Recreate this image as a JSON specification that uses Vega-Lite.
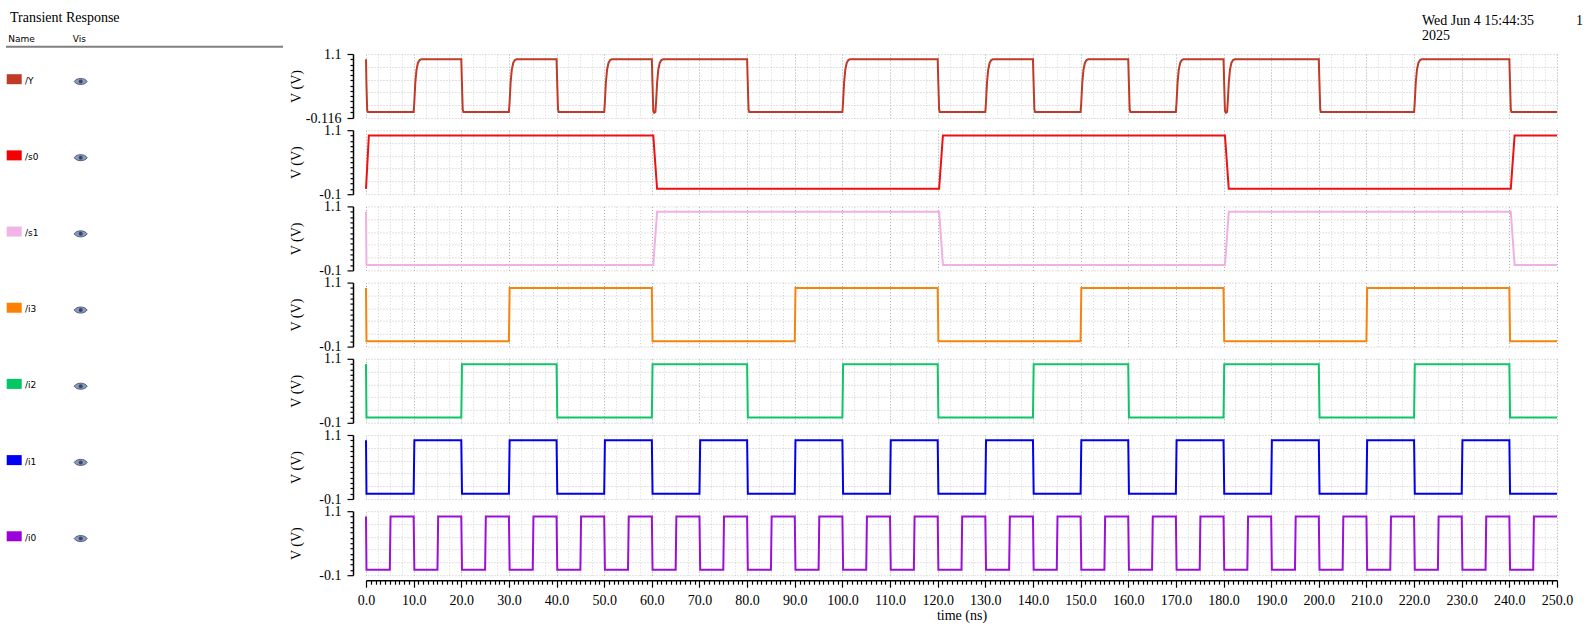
{
"$schema":"https://vega.github.io/schema/vega-lite/v6.json",
"background":"white",
"padding":{"left":5,"top":10,"right":5,"bottom":5},
"bounds":"flush",
"spacing":83,
"datasets":{
"legend":[{"sig":"/Y","row":0},{"sig":"/s0","row":1},{"sig":"/s1","row":2},{"sig":"/i3","row":3},{"sig":"/i2","row":4},{"sig":"/i1","row":5},{"sig":"/i0","row":6}],
"Y":[{"t":0,"v":1},{"t":0.1,"v":0.5},{"t":0.25,"v":0.03},{"t":0.4,"v":0},
{"t":10,"v":0},{"t":10.12,"v":0.15},{"t":10.35,"v":0.55},{"t":10.6,"v":0.8},{"t":10.9,"v":0.93},{"t":11.25,"v":0.985},{"t":11.6,"v":1},
{"t":20,"v":1},{"t":20.12,"v":0.6},{"t":20.3,"v":0.05},{"t":20.45,"v":0},
{"t":30,"v":0},{"t":30.12,"v":0.15},{"t":30.35,"v":0.55},{"t":30.6,"v":0.8},{"t":30.9,"v":0.93},{"t":31.25,"v":0.985},{"t":31.6,"v":1},
{"t":40,"v":1},{"t":40.12,"v":0.6},{"t":40.3,"v":0.05},{"t":40.45,"v":0},
{"t":50,"v":0},{"t":50.12,"v":0.15},{"t":50.35,"v":0.55},{"t":50.6,"v":0.8},{"t":50.9,"v":0.93},{"t":51.25,"v":0.985},{"t":51.6,"v":1},
{"t":60,"v":1},{"t":60.15,"v":0.5},{"t":60.3,"v":0.02},{"t":60.5,"v":-0.016},{"t":60.75,"v":0},{"t":60.9,"v":0.2},{"t":61.1,"v":0.55},{"t":61.35,"v":0.8},{"t":61.65,"v":0.93},{"t":62,"v":0.985},{"t":62.4,"v":1},
{"t":80,"v":1},{"t":80.12,"v":0.6},{"t":80.3,"v":0.05},{"t":80.45,"v":0},
{"t":100,"v":0},{"t":100.12,"v":0.15},{"t":100.35,"v":0.55},{"t":100.6,"v":0.8},{"t":100.9,"v":0.93},{"t":101.25,"v":0.985},{"t":101.6,"v":1},
{"t":120,"v":1},{"t":120.12,"v":0.6},{"t":120.3,"v":0.05},{"t":120.45,"v":0},
{"t":130,"v":0},{"t":130.12,"v":0.15},{"t":130.35,"v":0.55},{"t":130.6,"v":0.8},{"t":130.9,"v":0.93},{"t":131.25,"v":0.985},{"t":131.6,"v":1},
{"t":140,"v":1},{"t":140.12,"v":0.6},{"t":140.3,"v":0.05},{"t":140.45,"v":0},
{"t":150,"v":0},{"t":150.12,"v":0.15},{"t":150.35,"v":0.55},{"t":150.6,"v":0.8},{"t":150.9,"v":0.93},{"t":151.25,"v":0.985},{"t":151.6,"v":1},
{"t":160,"v":1},{"t":160.12,"v":0.6},{"t":160.3,"v":0.05},{"t":160.45,"v":0},
{"t":170,"v":0},{"t":170.12,"v":0.15},{"t":170.35,"v":0.55},{"t":170.6,"v":0.8},{"t":170.9,"v":0.93},{"t":171.25,"v":0.985},{"t":171.6,"v":1},
{"t":180,"v":1},{"t":180.15,"v":0.5},{"t":180.3,"v":0.02},{"t":180.5,"v":-0.016},{"t":180.75,"v":0},{"t":180.9,"v":0.2},{"t":181.1,"v":0.55},{"t":181.35,"v":0.8},{"t":181.65,"v":0.93},{"t":182,"v":0.985},{"t":182.4,"v":1},
{"t":200,"v":1},{"t":200.12,"v":0.6},{"t":200.3,"v":0.05},{"t":200.45,"v":0},
{"t":220,"v":0},{"t":220.12,"v":0.15},{"t":220.35,"v":0.55},{"t":220.6,"v":0.8},{"t":220.9,"v":0.93},{"t":221.25,"v":0.985},{"t":221.6,"v":1},
{"t":240,"v":1},{"t":240.12,"v":0.6},{"t":240.3,"v":0.05},{"t":240.45,"v":0},
{"t":250,"v":0}],
"s0":[{"t":0,"v":0},{"t":0.6,"v":1},{"t":60.3,"v":1},{"t":61.1,"v":0},{"t":120.3,"v":0},{"t":121.1,"v":1},{"t":180.3,"v":1},{"t":181.1,"v":0},{"t":240.3,"v":0},{"t":241.1,"v":1},{"t":250,"v":1}],
"s1":[{"t":0,"v":1},{"t":0.1,"v":0},{"t":60.3,"v":0},{"t":61.1,"v":1},{"t":120.3,"v":1},{"t":121.1,"v":0},{"t":180.3,"v":0},{"t":181.1,"v":1},{"t":240.3,"v":1},{"t":241.1,"v":0},{"t":250,"v":0}],
"i3":[{"t":0,"v":1},{"t":0.1,"v":0},{"t":30,"v":0},{"t":30.15,"v":1},{"t":60,"v":1},{"t":60.15,"v":0},{"t":90,"v":0},{"t":90.15,"v":1},{"t":120,"v":1},{"t":120.15,"v":0},{"t":150,"v":0},{"t":150.15,"v":1},{"t":180,"v":1},{"t":180.15,"v":0},{"t":210,"v":0},{"t":210.15,"v":1},{"t":240,"v":1},{"t":240.15,"v":0},{"t":250,"v":0}],
"i2":[{"t":0,"v":1},{"t":0.1,"v":0},{"t":20,"v":0},{"t":20.15,"v":1},{"t":40,"v":1},{"t":40.15,"v":0},{"t":60,"v":0},{"t":60.15,"v":1},{"t":80,"v":1},{"t":80.15,"v":0},{"t":100,"v":0},{"t":100.15,"v":1},{"t":120,"v":1},{"t":120.15,"v":0},{"t":140,"v":0},{"t":140.15,"v":1},{"t":160,"v":1},{"t":160.15,"v":0},{"t":180,"v":0},{"t":180.15,"v":1},{"t":200,"v":1},{"t":200.15,"v":0},{"t":220,"v":0},{"t":220.15,"v":1},{"t":240,"v":1},{"t":240.15,"v":0},{"t":250,"v":0}],
"i1":[{"t":0,"v":1},{"t":0.1,"v":0},{"t":10,"v":0},{"t":10.15,"v":1},{"t":20,"v":1},{"t":20.15,"v":0},{"t":30,"v":0},{"t":30.15,"v":1},{"t":40,"v":1},{"t":40.15,"v":0},{"t":50,"v":0},{"t":50.15,"v":1},{"t":60,"v":1},{"t":60.15,"v":0},{"t":70,"v":0},{"t":70.15,"v":1},{"t":80,"v":1},{"t":80.15,"v":0},{"t":90,"v":0},{"t":90.15,"v":1},{"t":100,"v":1},{"t":100.15,"v":0},{"t":110,"v":0},{"t":110.15,"v":1},{"t":120,"v":1},{"t":120.15,"v":0},{"t":130,"v":0},{"t":130.15,"v":1},{"t":140,"v":1},{"t":140.15,"v":0},{"t":150,"v":0},{"t":150.15,"v":1},{"t":160,"v":1},{"t":160.15,"v":0},{"t":170,"v":0},{"t":170.15,"v":1},{"t":180,"v":1},{"t":180.15,"v":0},{"t":190,"v":0},{"t":190.15,"v":1},{"t":200,"v":1},{"t":200.15,"v":0},{"t":210,"v":0},{"t":210.15,"v":1},{"t":220,"v":1},{"t":220.15,"v":0},{"t":230,"v":0},{"t":230.15,"v":1},{"t":240,"v":1},{"t":240.15,"v":0},{"t":250,"v":0}],
"i0":[{"t":0,"v":1},{"t":0.1,"v":0},
{"t":5,"v":0},{"t":5.15,"v":1},{"t":10,"v":1},{"t":10.15,"v":0},
{"t":15,"v":0},{"t":15.15,"v":1},{"t":20,"v":1},{"t":20.15,"v":0},
{"t":25,"v":0},{"t":25.15,"v":1},{"t":30,"v":1},{"t":30.15,"v":0},
{"t":35,"v":0},{"t":35.15,"v":1},{"t":40,"v":1},{"t":40.15,"v":0},
{"t":45,"v":0},{"t":45.15,"v":1},{"t":50,"v":1},{"t":50.15,"v":0},
{"t":55,"v":0},{"t":55.15,"v":1},{"t":60,"v":1},{"t":60.15,"v":0},
{"t":65,"v":0},{"t":65.15,"v":1},{"t":70,"v":1},{"t":70.15,"v":0},
{"t":75,"v":0},{"t":75.15,"v":1},{"t":80,"v":1},{"t":80.15,"v":0},
{"t":85,"v":0},{"t":85.15,"v":1},{"t":90,"v":1},{"t":90.15,"v":0},
{"t":95,"v":0},{"t":95.15,"v":1},{"t":100,"v":1},{"t":100.15,"v":0},
{"t":105,"v":0},{"t":105.15,"v":1},{"t":110,"v":1},{"t":110.15,"v":0},
{"t":115,"v":0},{"t":115.15,"v":1},{"t":120,"v":1},{"t":120.15,"v":0},
{"t":125,"v":0},{"t":125.15,"v":1},{"t":130,"v":1},{"t":130.15,"v":0},
{"t":135,"v":0},{"t":135.15,"v":1},{"t":140,"v":1},{"t":140.15,"v":0},
{"t":145,"v":0},{"t":145.15,"v":1},{"t":150,"v":1},{"t":150.15,"v":0},
{"t":155,"v":0},{"t":155.15,"v":1},{"t":160,"v":1},{"t":160.15,"v":0},
{"t":165,"v":0},{"t":165.15,"v":1},{"t":170,"v":1},{"t":170.15,"v":0},
{"t":175,"v":0},{"t":175.15,"v":1},{"t":180,"v":1},{"t":180.15,"v":0},
{"t":185,"v":0},{"t":185.15,"v":1},{"t":190,"v":1},{"t":190.15,"v":0},
{"t":195,"v":0},{"t":195.15,"v":1},{"t":200,"v":1},{"t":200.15,"v":0},
{"t":205,"v":0},{"t":205.15,"v":1},{"t":210,"v":1},{"t":210.15,"v":0},
{"t":215,"v":0},{"t":215.15,"v":1},{"t":220,"v":1},{"t":220.15,"v":0},
{"t":225,"v":0},{"t":225.15,"v":1},{"t":230,"v":1},{"t":230.15,"v":0},
{"t":235,"v":0},{"t":235.15,"v":1},{"t":240,"v":1},{"t":240.15,"v":0},
{"t":245,"v":0},{"t":245.15,"v":1},{"t":250,"v":1}]
},
"hconcat":[
{
"width":277,"height":521.2,
"title":{"text":"Transient Response","anchor":"start","frame":"group","dx":4,"offset":10,"font":"Liberation Serif","fontSize":14,"fontWeight":"normal","color":"#000"},
"data":{"name":"legend"},
"layer":[
{"mark":{"type":"point","shape":"M-1.5,-1L1.5,-1L1.5,1L-1.5,1Z","filled":true,"size":100,"opacity":1,"strokeWidth":0},
"encoding":{"x":{"value":8.2},
"y":{"field":"row","type":"quantitative","scale":{"domain":[-0.3308,6.5109],"reverse":true,"nice":false,"zero":false},"axis":null},
"color":{"field":"sig","type":"nominal","scale":{"domain":["/Y","/s0","/s1","/i3","/i2","/i1","/i0"],"range":["#c03a28","#f40000","#f2b4e6","#ff8000","#00c864","#0000f4","#9a00dc"]},"legend":null}}},
{"mark":{"type":"text","align":"left","baseline":"middle","dy":1.5,"font":"DejaVu Sans","fontSize":9,"color":"#000"},
"encoding":{"x":{"value":19},"y":{"field":"row","type":"quantitative"},"text":{"field":"sig"}}},
{"mark":{"type":"point","shape":"M-1,0C-0.6,-0.62 0.6,-0.62 1,0C0.6,0.62 -0.6,0.62 -1,0Z","filled":true,"size":169,"opacity":1,"color":"#8e9bb8","stroke":"#4d5d80","strokeWidth":1,"yOffset":2.3},
"encoding":{"x":{"value":74.7},"y":{"field":"row","type":"quantitative"}}},
{"mark":{"type":"point","shape":"circle","filled":true,"size":16,"opacity":1,"color":"#3a4868","yOffset":2.3},
"encoding":{"x":{"value":74.7},"y":{"field":"row","type":"quantitative"}}},
{"data":{"values":[{"label":"Name"}]},
"mark":{"type":"text","align":"left","baseline":"middle","font":"DejaVu Sans","fontSize":9,"color":"#000"},
"encoding":{"x":{"value":2.3},"y":{"datum":-0.5316,"type":"quantitative"},"text":{"field":"label"}}},
{"data":{"values":[{"label":"Vis"}]},
"mark":{"type":"text","align":"left","baseline":"middle","font":"DejaVu Sans","fontSize":9,"color":"#000"},
"encoding":{"x":{"value":66.7},"y":{"datum":-0.5316,"type":"quantitative"},"text":{"field":"label"}}},
{"data":{"values":[{"label":"line"}]},
"mark":{"type":"rule","color":"#808080","strokeWidth":2},
"encoding":{"x":{"value":0},"x2":{"value":277},"y":{"datum":-0.4266,"type":"quantitative"}}}
]
},
{
"bounds":"flush",
"spacing":12.2,
"vconcat":[
{
"width":1191,"height":64,
"title":{"text":["Wed Jun 4 15:44:35\u00a0\u00a0\u00a0\u00a0\u00a0\u00a0\u00a0\u00a0\u00a0\u00a0\u00a0\u00a01","2025"],"anchor":"start","frame":"group","align":"left","dx":1056,"offset":4,"lineHeight":15,"font":"Liberation Serif","fontSize":14,"fontWeight":"normal","color":"#000"},
"data":{"name":"Y"},
"layer":[
{"mark":{"type":"line","color":"#c03a28","strokeWidth":2},
"encoding":{
"x":{"field":"t","type":"quantitative","scale":{"domain":[0,250],"nice":false,"zero":false},"axis":{"orient":"bottom","values":[0,10,20,30,40,50,60,70,80,90,100,110,120,130,140,150,160,170,180,190,200,210,220,230,240,250],"grid":true,"gridColor":"#a8a8a8","gridDash":[1,2],"ticks":false,"labels":false,"domain":false,"title":null}},
"y":{"field":"v","type":"quantitative","scale":{"domain":[-0.116,1.1],"nice":false,"zero":false},"axis":{"orient":"left","offset":13,"values":[-0.116,0,0.1,0.2,0.3,0.4,0.5,0.6,0.7,0.8,0.9,1,1.1],"labelExpr":"datum.value == 1.1 ? '1.1' : (datum.value == -0.116 ? '-0.116' : '')","tickSize":{"condition":{"test":"datum.value == 1.1 || datum.value == -0.116","value":6},"value":3},"labelPadding":6,"labelOverlap":false,"labelFlush":false,"labelBound":false,"grid":false,"domainWidth":1.5,"tickWidth":1.2,"title":"V (V)","titleX":-57,"titleY":32,"titleBaseline":"middle"}}}},
{"mark":{"type":"line","opacity":0},
"encoding":{
"x":{"field":"t","type":"quantitative","axis":{"orient":"top","values":[2.5,5,7.5,12.5,15,17.5,22.5,25,27.5,32.5,35,37.5,42.5,45,47.5,52.5,55,57.5,62.5,65,67.5,72.5,75,77.5,82.5,85,87.5,92.5,95,97.5,102.5,105,107.5,112.5,115,117.5,122.5,125,127.5,132.5,135,137.5,142.5,145,147.5,152.5,155,157.5,162.5,165,167.5,172.5,175,177.5,182.5,185,187.5,192.5,195,197.5,202.5,205,207.5,212.5,215,217.5,222.5,225,227.5,232.5,235,237.5,242.5,245,247.5],"grid":true,"gridColor":"#d6d6d6","gridDash":[1,2],"ticks":false,"labels":false,"domain":false,"title":null}},
"y":{"field":"v","type":"quantitative","axis":{"orient":"right","values":[-0.116,0.1272,0.3704,0.6136,0.8568,1.1],"grid":true,"gridColor":"#c4c4c4","gridDash":[1,2],"ticks":false,"labels":false,"domain":false,"title":null}}}}
],
"resolve":{"axis":{"x":"independent","y":"independent"}}
},
{
"width":1191,"height":64,
"data":{"name":"s0"},
"layer":[
{"mark":{"type":"line","color":"#ee1111","strokeWidth":2},
"encoding":{
"x":{"field":"t","type":"quantitative","scale":{"domain":[0,250],"nice":false,"zero":false},"axis":{"orient":"bottom","values":[0,10,20,30,40,50,60,70,80,90,100,110,120,130,140,150,160,170,180,190,200,210,220,230,240,250],"grid":true,"gridColor":"#a8a8a8","gridDash":[1,2],"ticks":false,"labels":false,"domain":false,"title":null}},
"y":{"field":"v","type":"quantitative","scale":{"domain":[-0.1,1.1],"nice":false,"zero":false},"axis":{"orient":"left","offset":13,"values":[-0.1,0,0.1,0.2,0.3,0.4,0.5,0.6,0.7,0.8,0.9,1,1.1],"labelExpr":"datum.value == 1.1 ? '1.1' : (datum.value == -0.1 ? '-0.1' : '')","tickSize":{"condition":{"test":"datum.value == 1.1 || datum.value == -0.1","value":6},"value":3},"labelPadding":6,"labelOverlap":false,"labelFlush":false,"labelBound":false,"grid":false,"domainWidth":1.5,"tickWidth":1.2,"title":"V (V)","titleX":-57,"titleY":32,"titleBaseline":"middle"}}}},
{"mark":{"type":"line","opacity":0},
"encoding":{
"x":{"field":"t","type":"quantitative","axis":{"orient":"top","values":[2.5,5,7.5,12.5,15,17.5,22.5,25,27.5,32.5,35,37.5,42.5,45,47.5,52.5,55,57.5,62.5,65,67.5,72.5,75,77.5,82.5,85,87.5,92.5,95,97.5,102.5,105,107.5,112.5,115,117.5,122.5,125,127.5,132.5,135,137.5,142.5,145,147.5,152.5,155,157.5,162.5,165,167.5,172.5,175,177.5,182.5,185,187.5,192.5,195,197.5,202.5,205,207.5,212.5,215,217.5,222.5,225,227.5,232.5,235,237.5,242.5,245,247.5],"grid":true,"gridColor":"#d6d6d6","gridDash":[1,2],"ticks":false,"labels":false,"domain":false,"title":null}},
"y":{"field":"v","type":"quantitative","axis":{"orient":"right","values":[-0.1,0.14,0.38,0.62,0.86,1.1],"grid":true,"gridColor":"#c4c4c4","gridDash":[1,2],"ticks":false,"labels":false,"domain":false,"title":null}}}}
],
"resolve":{"axis":{"x":"independent","y":"independent"}}
},
{
"width":1191,"height":64,
"data":{"name":"s1"},
"layer":[
{"mark":{"type":"line","color":"#f0b0e2","strokeWidth":2},
"encoding":{
"x":{"field":"t","type":"quantitative","scale":{"domain":[0,250],"nice":false,"zero":false},"axis":{"orient":"bottom","values":[0,10,20,30,40,50,60,70,80,90,100,110,120,130,140,150,160,170,180,190,200,210,220,230,240,250],"grid":true,"gridColor":"#a8a8a8","gridDash":[1,2],"ticks":false,"labels":false,"domain":false,"title":null}},
"y":{"field":"v","type":"quantitative","scale":{"domain":[-0.1,1.1],"nice":false,"zero":false},"axis":{"orient":"left","offset":13,"values":[-0.1,0,0.1,0.2,0.3,0.4,0.5,0.6,0.7,0.8,0.9,1,1.1],"labelExpr":"datum.value == 1.1 ? '1.1' : (datum.value == -0.1 ? '-0.1' : '')","tickSize":{"condition":{"test":"datum.value == 1.1 || datum.value == -0.1","value":6},"value":3},"labelPadding":6,"labelOverlap":false,"labelFlush":false,"labelBound":false,"grid":false,"domainWidth":1.5,"tickWidth":1.2,"title":"V (V)","titleX":-57,"titleY":32,"titleBaseline":"middle"}}}},
{"mark":{"type":"line","opacity":0},
"encoding":{
"x":{"field":"t","type":"quantitative","axis":{"orient":"top","values":[2.5,5,7.5,12.5,15,17.5,22.5,25,27.5,32.5,35,37.5,42.5,45,47.5,52.5,55,57.5,62.5,65,67.5,72.5,75,77.5,82.5,85,87.5,92.5,95,97.5,102.5,105,107.5,112.5,115,117.5,122.5,125,127.5,132.5,135,137.5,142.5,145,147.5,152.5,155,157.5,162.5,165,167.5,172.5,175,177.5,182.5,185,187.5,192.5,195,197.5,202.5,205,207.5,212.5,215,217.5,222.5,225,227.5,232.5,235,237.5,242.5,245,247.5],"grid":true,"gridColor":"#d6d6d6","gridDash":[1,2],"ticks":false,"labels":false,"domain":false,"title":null}},
"y":{"field":"v","type":"quantitative","axis":{"orient":"right","values":[-0.1,0.14,0.38,0.62,0.86,1.1],"grid":true,"gridColor":"#c4c4c4","gridDash":[1,2],"ticks":false,"labels":false,"domain":false,"title":null}}}}
],
"resolve":{"axis":{"x":"independent","y":"independent"}}
},
{
"width":1191,"height":64,
"data":{"name":"i3"},
"layer":[
{"mark":{"type":"line","color":"#f7830f","strokeWidth":2},
"encoding":{
"x":{"field":"t","type":"quantitative","scale":{"domain":[0,250],"nice":false,"zero":false},"axis":{"orient":"bottom","values":[0,10,20,30,40,50,60,70,80,90,100,110,120,130,140,150,160,170,180,190,200,210,220,230,240,250],"grid":true,"gridColor":"#a8a8a8","gridDash":[1,2],"ticks":false,"labels":false,"domain":false,"title":null}},
"y":{"field":"v","type":"quantitative","scale":{"domain":[-0.1,1.1],"nice":false,"zero":false},"axis":{"orient":"left","offset":13,"values":[-0.1,0,0.1,0.2,0.3,0.4,0.5,0.6,0.7,0.8,0.9,1,1.1],"labelExpr":"datum.value == 1.1 ? '1.1' : (datum.value == -0.1 ? '-0.1' : '')","tickSize":{"condition":{"test":"datum.value == 1.1 || datum.value == -0.1","value":6},"value":3},"labelPadding":6,"labelOverlap":false,"labelFlush":false,"labelBound":false,"grid":false,"domainWidth":1.5,"tickWidth":1.2,"title":"V (V)","titleX":-57,"titleY":32,"titleBaseline":"middle"}}}},
{"mark":{"type":"line","opacity":0},
"encoding":{
"x":{"field":"t","type":"quantitative","axis":{"orient":"top","values":[2.5,5,7.5,12.5,15,17.5,22.5,25,27.5,32.5,35,37.5,42.5,45,47.5,52.5,55,57.5,62.5,65,67.5,72.5,75,77.5,82.5,85,87.5,92.5,95,97.5,102.5,105,107.5,112.5,115,117.5,122.5,125,127.5,132.5,135,137.5,142.5,145,147.5,152.5,155,157.5,162.5,165,167.5,172.5,175,177.5,182.5,185,187.5,192.5,195,197.5,202.5,205,207.5,212.5,215,217.5,222.5,225,227.5,232.5,235,237.5,242.5,245,247.5],"grid":true,"gridColor":"#d6d6d6","gridDash":[1,2],"ticks":false,"labels":false,"domain":false,"title":null}},
"y":{"field":"v","type":"quantitative","axis":{"orient":"right","values":[-0.1,0.14,0.38,0.62,0.86,1.1],"grid":true,"gridColor":"#c4c4c4","gridDash":[1,2],"ticks":false,"labels":false,"domain":false,"title":null}}}}
],
"resolve":{"axis":{"x":"independent","y":"independent"}}
},
{
"width":1191,"height":64,
"data":{"name":"i2"},
"layer":[
{"mark":{"type":"line","color":"#10c468","strokeWidth":2},
"encoding":{
"x":{"field":"t","type":"quantitative","scale":{"domain":[0,250],"nice":false,"zero":false},"axis":{"orient":"bottom","values":[0,10,20,30,40,50,60,70,80,90,100,110,120,130,140,150,160,170,180,190,200,210,220,230,240,250],"grid":true,"gridColor":"#a8a8a8","gridDash":[1,2],"ticks":false,"labels":false,"domain":false,"title":null}},
"y":{"field":"v","type":"quantitative","scale":{"domain":[-0.1,1.1],"nice":false,"zero":false},"axis":{"orient":"left","offset":13,"values":[-0.1,0,0.1,0.2,0.3,0.4,0.5,0.6,0.7,0.8,0.9,1,1.1],"labelExpr":"datum.value == 1.1 ? '1.1' : (datum.value == -0.1 ? '-0.1' : '')","tickSize":{"condition":{"test":"datum.value == 1.1 || datum.value == -0.1","value":6},"value":3},"labelPadding":6,"labelOverlap":false,"labelFlush":false,"labelBound":false,"grid":false,"domainWidth":1.5,"tickWidth":1.2,"title":"V (V)","titleX":-57,"titleY":32,"titleBaseline":"middle"}}}},
{"mark":{"type":"line","opacity":0},
"encoding":{
"x":{"field":"t","type":"quantitative","axis":{"orient":"top","values":[2.5,5,7.5,12.5,15,17.5,22.5,25,27.5,32.5,35,37.5,42.5,45,47.5,52.5,55,57.5,62.5,65,67.5,72.5,75,77.5,82.5,85,87.5,92.5,95,97.5,102.5,105,107.5,112.5,115,117.5,122.5,125,127.5,132.5,135,137.5,142.5,145,147.5,152.5,155,157.5,162.5,165,167.5,172.5,175,177.5,182.5,185,187.5,192.5,195,197.5,202.5,205,207.5,212.5,215,217.5,222.5,225,227.5,232.5,235,237.5,242.5,245,247.5],"grid":true,"gridColor":"#d6d6d6","gridDash":[1,2],"ticks":false,"labels":false,"domain":false,"title":null}},
"y":{"field":"v","type":"quantitative","axis":{"orient":"right","values":[-0.1,0.14,0.38,0.62,0.86,1.1],"grid":true,"gridColor":"#c4c4c4","gridDash":[1,2],"ticks":false,"labels":false,"domain":false,"title":null}}}}
],
"resolve":{"axis":{"x":"independent","y":"independent"}}
},
{
"width":1191,"height":64,
"data":{"name":"i1"},
"layer":[
{"mark":{"type":"line","color":"#0000ee","strokeWidth":2},
"encoding":{
"x":{"field":"t","type":"quantitative","scale":{"domain":[0,250],"nice":false,"zero":false},"axis":{"orient":"bottom","values":[0,10,20,30,40,50,60,70,80,90,100,110,120,130,140,150,160,170,180,190,200,210,220,230,240,250],"grid":true,"gridColor":"#a8a8a8","gridDash":[1,2],"ticks":false,"labels":false,"domain":false,"title":null}},
"y":{"field":"v","type":"quantitative","scale":{"domain":[-0.1,1.1],"nice":false,"zero":false},"axis":{"orient":"left","offset":13,"values":[-0.1,0,0.1,0.2,0.3,0.4,0.5,0.6,0.7,0.8,0.9,1,1.1],"labelExpr":"datum.value == 1.1 ? '1.1' : (datum.value == -0.1 ? '-0.1' : '')","tickSize":{"condition":{"test":"datum.value == 1.1 || datum.value == -0.1","value":6},"value":3},"labelPadding":6,"labelOverlap":false,"labelFlush":false,"labelBound":false,"grid":false,"domainWidth":1.5,"tickWidth":1.2,"title":"V (V)","titleX":-57,"titleY":32,"titleBaseline":"middle"}}}},
{"mark":{"type":"line","opacity":0},
"encoding":{
"x":{"field":"t","type":"quantitative","axis":{"orient":"top","values":[2.5,5,7.5,12.5,15,17.5,22.5,25,27.5,32.5,35,37.5,42.5,45,47.5,52.5,55,57.5,62.5,65,67.5,72.5,75,77.5,82.5,85,87.5,92.5,95,97.5,102.5,105,107.5,112.5,115,117.5,122.5,125,127.5,132.5,135,137.5,142.5,145,147.5,152.5,155,157.5,162.5,165,167.5,172.5,175,177.5,182.5,185,187.5,192.5,195,197.5,202.5,205,207.5,212.5,215,217.5,222.5,225,227.5,232.5,235,237.5,242.5,245,247.5],"grid":true,"gridColor":"#d6d6d6","gridDash":[1,2],"ticks":false,"labels":false,"domain":false,"title":null}},
"y":{"field":"v","type":"quantitative","axis":{"orient":"right","values":[-0.1,0.14,0.38,0.62,0.86,1.1],"grid":true,"gridColor":"#c4c4c4","gridDash":[1,2],"ticks":false,"labels":false,"domain":false,"title":null}}}}
],
"resolve":{"axis":{"x":"independent","y":"independent"}}
},
{
"width":1191,"height":64,
"data":{"name":"i0"},
"layer":[
{"mark":{"type":"line","color":"#9b10d8","strokeWidth":2},
"encoding":{
"x":{"field":"t","type":"quantitative","scale":{"domain":[0,250],"nice":false,"zero":false},"axis":{"orient":"bottom","offset":5,"values":[0,1,2,3,4,5,6,7,8,9,10,11,12,13,14,15,16,17,18,19,20,21,22,23,24,25,26,27,28,29,30,31,32,33,34,35,36,37,38,39,40,41,42,43,44,45,46,47,48,49,50,51,52,53,54,55,56,57,58,59,60,61,62,63,64,65,66,67,68,69,70,71,72,73,74,75,76,77,78,79,80,81,82,83,84,85,86,87,88,89,90,91,92,93,94,95,96,97,98,99,100,101,102,103,104,105,106,107,108,109,110,111,112,113,114,115,116,117,118,119,120,121,122,123,124,125,126,127,128,129,130,131,132,133,134,135,136,137,138,139,140,141,142,143,144,145,146,147,148,149,150,151,152,153,154,155,156,157,158,159,160,161,162,163,164,165,166,167,168,169,170,171,172,173,174,175,176,177,178,179,180,181,182,183,184,185,186,187,188,189,190,191,192,193,194,195,196,197,198,199,200,201,202,203,204,205,206,207,208,209,210,211,212,213,214,215,216,217,218,219,220,221,222,223,224,225,226,227,228,229,230,231,232,233,234,235,236,237,238,239,240,241,242,243,244,245,246,247,248,249,250],"labelExpr":"datum.value % 10 === 0 ? format(datum.value, '.1f') : ''","tickSize":{"condition":{"test":"datum.value % 10 === 0","value":7},"value":4},"labelPadding":6,"labelOverlap":false,"labelFlush":false,"labelBound":false,"grid":true,"gridColor":"#a8a8a8","gridDash":[1,2],"gridOpacity":{"condition":{"test":"datum.value % 10 === 0","value":1},"value":0},"domainWidth":1.5,"tickWidth":1.2,"title":"time (ns)","titlePadding":1}},
"y":{"field":"v","type":"quantitative","scale":{"domain":[-0.1,1.1],"nice":false,"zero":false},"axis":{"orient":"left","offset":13,"values":[-0.1,0,0.1,0.2,0.3,0.4,0.5,0.6,0.7,0.8,0.9,1,1.1],"labelExpr":"datum.value == 1.1 ? '1.1' : (datum.value == -0.1 ? '-0.1' : '')","tickSize":{"condition":{"test":"datum.value == 1.1 || datum.value == -0.1","value":6},"value":3},"labelPadding":6,"labelOverlap":false,"labelFlush":false,"labelBound":false,"grid":false,"domainWidth":1.5,"tickWidth":1.2,"title":"V (V)","titleX":-57,"titleY":32,"titleBaseline":"middle"}}}},
{"mark":{"type":"line","opacity":0},
"encoding":{
"x":{"field":"t","type":"quantitative","axis":{"orient":"top","values":[2.5,5,7.5,12.5,15,17.5,22.5,25,27.5,32.5,35,37.5,42.5,45,47.5,52.5,55,57.5,62.5,65,67.5,72.5,75,77.5,82.5,85,87.5,92.5,95,97.5,102.5,105,107.5,112.5,115,117.5,122.5,125,127.5,132.5,135,137.5,142.5,145,147.5,152.5,155,157.5,162.5,165,167.5,172.5,175,177.5,182.5,185,187.5,192.5,195,197.5,202.5,205,207.5,212.5,215,217.5,222.5,225,227.5,232.5,235,237.5,242.5,245,247.5],"grid":true,"gridColor":"#d6d6d6","gridDash":[1,2],"ticks":false,"labels":false,"domain":false,"title":null}},
"y":{"field":"v","type":"quantitative","axis":{"orient":"right","values":[-0.1,0.14,0.38,0.62,0.86,1.1],"grid":true,"gridColor":"#c4c4c4","gridDash":[1,2],"ticks":false,"labels":false,"domain":false,"title":null}}}}
],
"resolve":{"axis":{"x":"independent","y":"independent"}}
}
]
}
],
"config":{
"view":{"stroke":null},
"axis":{"labelFont":"Liberation Serif","titleFont":"Liberation Serif","labelFontSize":14,"titleFontSize":14,"titleFontWeight":"normal","labelColor":"#000","titleColor":"#000","domainColor":"#000","tickColor":"#000"},
"title":{"font":"Liberation Serif","fontSize":14,"fontWeight":"normal","color":"#000"}
}
}
